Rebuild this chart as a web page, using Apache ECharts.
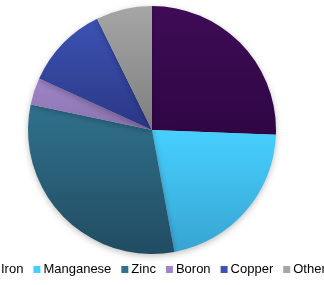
<!DOCTYPE html>
<html><head><meta charset="utf-8">
<script src="https://cdn.jsdelivr.net/npm/echarts@6/dist/echarts.min.js"></script>
<style>html,body{margin:0;padding:0;background:#fff}#c{width:324px;height:285px}</style>
</head><body><div id="c"></div>
<script>
const categories = ['Iron','Manganese','Zinc','Boron','Copper','Other'];
const values = [25.6, 21.5, 31.2, 3.5, 10.9, 7.3];
const topColors = ['#3e0c56','#46d0ff','#30718c','#a086c8','#3c52b4','#a6a6a6'];
const bottomColors = ['#2f0644','#38a4d2','#214c62','#8a72ae','#2a3784','#7e7e7e'];

const chart = echarts.init(document.getElementById('c'), null, {renderer:'canvas'});
const data = categories.map((n,i)=>({
  name:n, value:values[i],
  itemStyle:{color:new echarts.graphic.LinearGradient(0,0,0,1,[{offset:0,color:topColors[i]},{offset:1,color:bottomColors[i]}])}
}));
chart.setOption({
  animation:false,
  legend:{
    left:-9, top:263, width:420, padding:0, orient:'horizontal',
    icon:'rect', itemWidth:7, itemHeight:7, itemGap:10,
    textStyle:{fontFamily:'Liberation Sans, Arial', fontSize:13, color:'#000', padding:[0,0,0,-2]},
    data:categories.map((n,i)=>({name:n, itemStyle:{color:topColors[i]}}))
  },
  series:[{
    type:'pie', center:[152,130], radius:[0,124], startAngle:90, clockwise:true,
    label:{show:false}, labelLine:{show:false}, emphasis:{disabled:true},
    itemStyle:{borderWidth:0, shadowBlur:6, shadowColor:'rgba(0,0,0,0.25)', shadowOffsetY:2},
    data:data
  }]
});
</script></body></html>
